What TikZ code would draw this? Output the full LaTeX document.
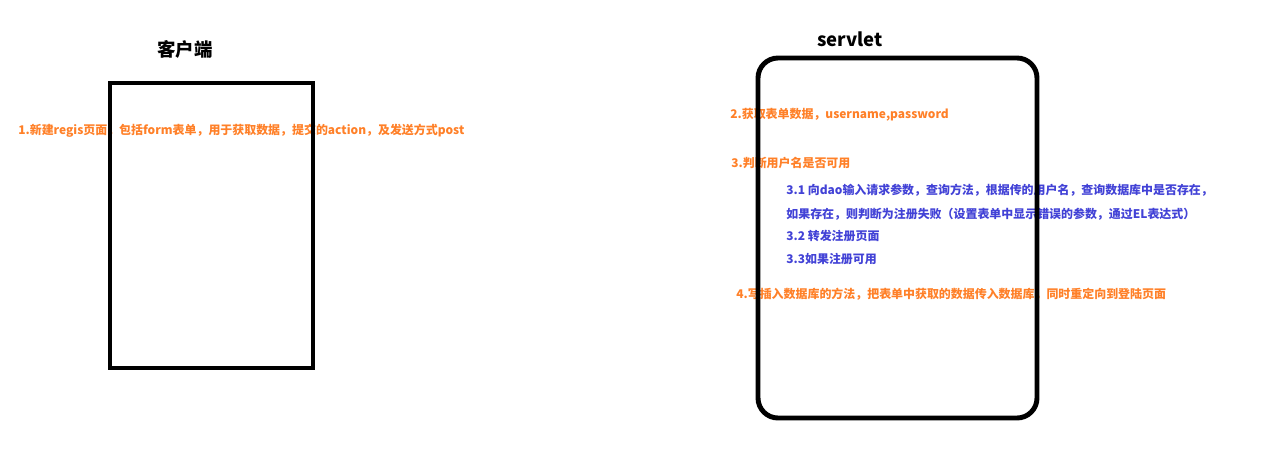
\documentclass[tikz,border=0pt]{standalone}
\usepackage{fontspec}
\setmainfont{Noto Sans CJK SC}
\usetikzlibrary{positioning}
\definecolor{Step}{RGB}{255, 128, 40}
\definecolor{SubStep}{RGB}{66, 66, 214}

\begin{document}
\begin{tikzpicture}[x=0.02cm, y=-0.02cm,
    steptext/.style={anchor=west, inner sep=0, text=Step, font=\fontsize{6.8}{8}\selectfont\bfseries},
    subtext/.style={anchor=west, inner sep=0, text=SubStep, font=\fontsize{6.8}{8}\selectfont\bfseries},
    title/.style={inner sep=0, font=\fontsize{10.5}{12}\selectfont\bfseries}]
            \useasboundingbox (0,0) rectangle (1263,453);

            % Titles
            \node[title] (clienttitle) at (185,49) {客户端};
            \node[title] (servlettitle) at (850,39) {servlet};

            % Client side
            \node[steptext] (regis) at (18,131) {1.新建regis页面，包括form表单，用于获取数据，提交的action，及发送方式post};

            % Servlet side
            \node[steptext] (getform) at (730,115) {2.获取表单数据，username,password};
            \node[steptext] (check) at (731,163) {3.判断用户名是否可用};
            \node[subtext] (dao) at (786,190) {3.1 向dao输入请求参数，查询方法，根据传的用户名，查询数据库中是否存在，};
            \node[subtext] (fail) at (786,214) {如果存在，则判断为注册失败（设置表单中显示错误的参数，通过EL表达式）};
            \node[subtext] (forward) at (786,236) {3.2 转发注册页面};
            \node[subtext] (ok) at (786,259) {3.3如果注册可用};
            \node[steptext] (insert) at (736,294) {4.写插入数据库的方法，把表单中获取的数据传入数据库，同时重定向到登陆页面};

            % Boxes
            \draw[line width=2.8pt] (110,83) rectangle (313,368);
            \draw[line width=2.8pt, rounded corners=0.4cm] (758,58) rectangle (1037,418);
        \end{tikzpicture}
\end{document}
